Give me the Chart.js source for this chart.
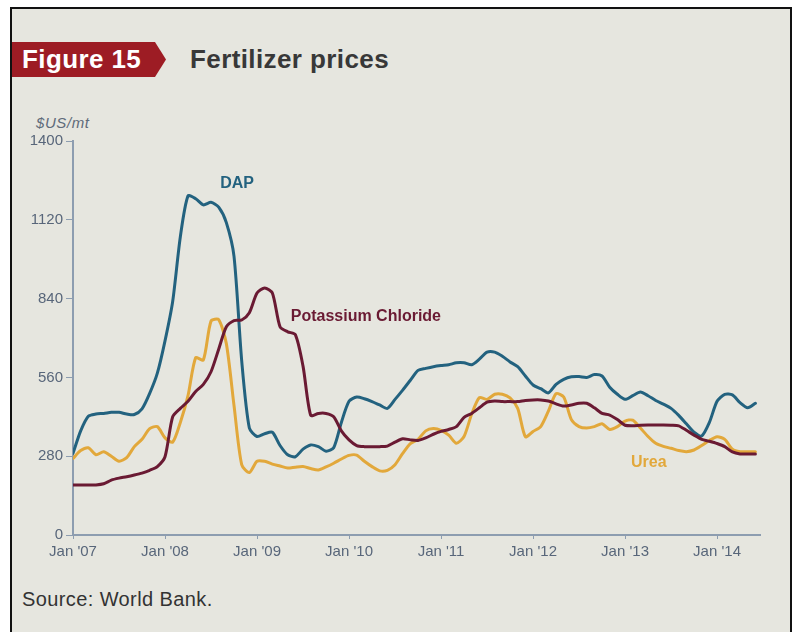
<!DOCTYPE html>
<html>
<head>
<meta charset="utf-8">
<script src="https://cdn.jsdelivr.net/npm/chart.js@4.4.1/dist/chart.umd.min.js"></script>
<style>
    body { margin: 0; background: #ffffff; font-family: "Liberation Sans", Arial, sans-serif; }
    #frame {
        position: absolute; left: 10px; top: 7px; width: 778px; height: 640px;
        border: 2px solid #111111; border-bottom: none; background: #e6e6df;
    }
    #badge {
        position: absolute; left: 12px; top: 42px; width: 154px; height: 35px;
        background: #9d1c24;
        clip-path: polygon(0 0, 143px 0, 154px 50%, 143px 100%, 0 100%);
        color: #ffffff; font-weight: bold; font-size: 26px; line-height: 35px;
        padding-left: 10px; box-sizing: border-box; letter-spacing: 0.4px;
    }
    #title {
        position: absolute; left: 190px; top: 42px; line-height: 35px;
        font-weight: bold; font-size: 26px; color: #383838; letter-spacing: 0.4px;
    }
    #unit {
        position: absolute; left: 36px; top: 114px; font-size: 15px;
        font-style: italic; color: #5f6b7a; letter-spacing: 0.6px;
    }
    #source {
        position: absolute; left: 22px; top: 588px; font-size: 20px; color: #333333;
        letter-spacing: 0.4px;
    }
    #graph { position: absolute; left: 0; top: 0; }
</style>
</head>
<body>
<div id="frame"></div>
<div id="badge">Figure 15</div>
<div id="title">Fertilizer prices</div>
<div id="unit">$US/mt</div>
<div id="source">Source: World Bank.</div>
<canvas id="graph" width="799" height="632"></canvas>
<script>
// monthly prices, Jan 2007 .. Jun 2014 ($US/mt)
const dap = [
    290, 370, 422, 430, 432, 436, 436, 430, 428, 448, 503, 575,
    690, 830, 1060, 1205, 1195, 1173, 1182, 1165, 1110, 990, 620, 380,
    350, 360, 365, 318, 285, 278, 305, 320, 314, 298, 310, 400,
    475, 490, 484, 474, 462, 450, 482, 515, 550, 585, 592, 598,
    602, 605, 612, 612, 605, 625, 650, 650, 635, 615, 598, 565,
    533, 520, 505, 535, 553, 562, 563, 560, 570, 565, 525, 500,
    482, 495, 508, 495, 478, 465, 450, 425, 395, 365, 352, 400,
    475, 500, 498, 470, 452, 468
];
const urea = [
    272, 300, 310, 285, 296, 280, 262, 275, 314, 340, 378, 385,
    345, 330, 400, 495, 630, 622, 760, 765, 680, 460, 250, 222,
    262, 262, 252, 245, 238, 241, 243, 236, 231, 242, 255, 270,
    283, 284, 262, 243, 228, 230, 250, 290, 325, 340, 370, 378,
    372, 355, 326, 350, 430, 488, 482, 500, 500, 487, 450, 349,
    368, 385, 440, 502, 490, 410, 385, 380, 385, 395, 375, 385,
    405, 408, 380, 350, 326, 315, 308, 300, 296, 302, 318, 336,
    349, 340, 305, 296, 296, 296
];
const potash = [
    178, 178, 178, 178, 182, 195, 202, 207, 213, 220, 230, 243,
    278, 420, 450, 475, 510, 535, 580, 660, 740, 762, 764, 790,
    860, 878, 860, 740, 722, 712, 600, 425, 432, 432, 420, 370,
    338, 318, 314, 314, 314, 316, 330, 342, 338, 336, 345, 358,
    368, 375, 385, 418, 432, 452, 472, 476, 474, 474, 474, 478,
    480, 480, 476, 466, 458, 462, 468, 468, 452, 432, 426, 410,
    390, 388, 390, 391, 391, 391, 390, 388, 372, 355, 340, 333,
    325, 314, 295, 288, 288, 288
];

const tickMonths = [0, 12, 24, 36, 48, 60, 72, 84];
const tickLabels = ["Jan '07", "Jan '08", "Jan '09", "Jan '10", "Jan '11", "Jan '12", "Jan '13", "Jan '14"];
const yTicks = [0, 280, 560, 840, 1120, 1400];

// name, month position, price position of the in-chart labels
const seriesNames = ["DAP", "Potassium Chloride", "Urea"];
const labelAt = [[21.4, 1250], [28.4, 775], [75.1, 256]];

const axis_color = "#8d9db0";
const tick_color = "#58667a";
const colors = ["#23627f", "#6a1a33", "#e2a83b"];

function to_points(values) {
    let points = [];
    for (let i = 0; i < values.length; i++) {
        points.push({ x: i, y: values[i] });
    }
    return points;
}

// writes the series names next to their lines
const line_names = {
    id: "line_names",
    afterDatasetsDraw(chart) {
        const ctx = chart.ctx;
        const xs = chart.scales.x;
        const ys = chart.scales.y;
        ctx.save();
        ctx.font = "bold 16px 'Liberation Sans', Arial, sans-serif";
        ctx.textBaseline = "middle";
        for (let i = 0; i < seriesNames.length; i++) {
            ctx.fillStyle = colors[i];
            ctx.textAlign = i == 1 ? "left" : "center";
            ctx.fillText(seriesNames[i], xs.getPixelForValue(labelAt[i][0]), ys.getPixelForValue(labelAt[i][1]));
        }
        ctx.restore();
    }
};

const ctx = document.getElementById("graph").getContext("2d");
const myChart = new Chart(ctx, {
    type: "line",
    data: {
        datasets: [
            { label: "Potassium Chloride", data: to_points(potash), borderColor: colors[1] },
            { label: "DAP", data: to_points(dap), borderColor: colors[0] },
            { label: "Urea", data: to_points(urea), borderColor: colors[2] }
        ]
    },
    options: {
        responsive: false,
        animation: false,
        events: [],
        elements: {
            point: { radius: 0 },
            line: { borderWidth: 3, tension: 0.25, borderCapStyle: "round", borderJoinStyle: "round" }
        },
        layout: { padding: { left: 0, top: 141, right: 39, bottom: 67 } },
        scales: {
            x: {
                type: "linear",
                min: 0,
                max: 89.6,
                afterBuildTicks: function (scale) {
                    scale.ticks = tickMonths.map(function (m) { return { value: m }; });
                },
                afterFit: function (scale) { scale.height = 30; },
                border: { display: true, color: axis_color, width: 2 },
                grid: { display: true, drawOnChartArea: false, color: axis_color, tickLength: 4, lineWidth: 1 },
                ticks: {
                    autoSkip: false,
                    maxRotation: 0,
                    padding: 4,
                    color: tick_color,
                    font: { family: "'Liberation Sans', Arial, sans-serif", size: 15 },
                    callback: function (value, index) { return tickLabels[index]; }
                }
            },
            y: {
                min: 0,
                max: 1400,
                afterBuildTicks: function (scale) {
                    scale.ticks = yTicks.map(function (v) { return { value: v }; });
                },
                afterFit: function (scale) { scale.width = 73; },
                border: { display: true, color: axis_color, width: 2 },
                grid: { display: true, drawOnChartArea: false, color: axis_color, tickLength: 7, lineWidth: 1 },
                ticks: {
                    padding: 3,
                    color: tick_color,
                    font: { family: "'Liberation Sans', Arial, sans-serif", size: 15 },
                    callback: function (value) { return String(value); }
                }
            }
        },
        plugins: {
            legend: { display: false },
            tooltip: { enabled: false }
        }
    },
    plugins: [line_names]
});
</script>
</body>
</html>
